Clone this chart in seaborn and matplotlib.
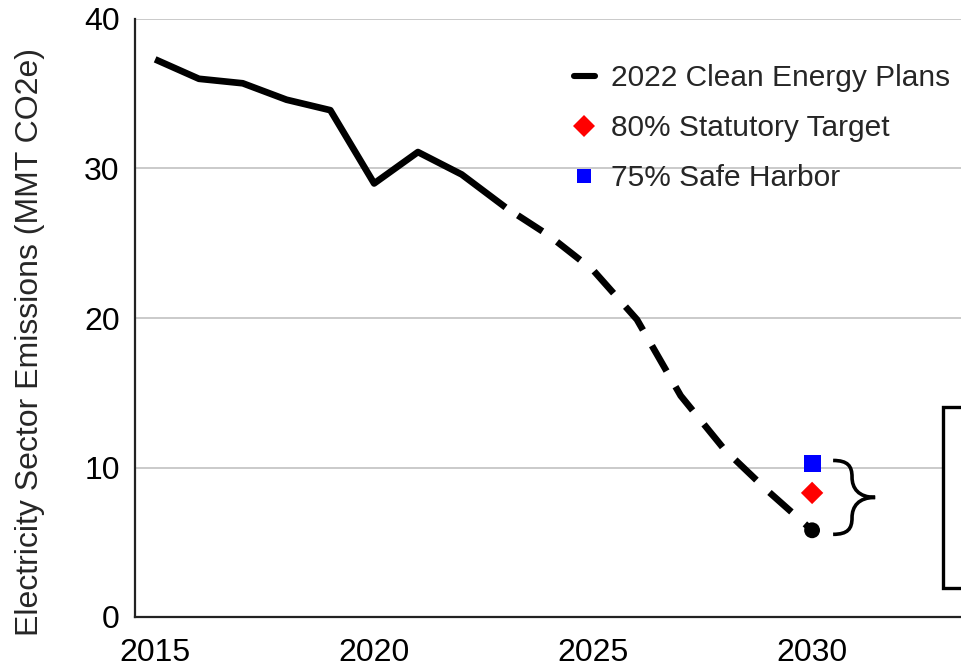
import matplotlib
matplotlib.use("Agg")
import matplotlib.pyplot as plt
import seaborn as sns
import pandas as pd
from matplotlib.lines import Line2D
from matplotlib.path import Path
from matplotlib.patches import PathPatch, Rectangle

# data
hist_years = [2015, 2016, 2017, 2018, 2019, 2020, 2021, 2022, 2023]
hist_vals = [37.3, 36.0, 35.7, 34.6, 33.9, 29.0, 31.1, 29.6, 27.4]
plan_years = [2023, 2024, 2025, 2026, 2027, 2028, 2029, 2030]
plan_vals = [27.4, 25.5, 23.2, 19.9, 14.8, 11.2, 8.4, 5.8]
target_year = 2030
statutory_target = 8.3
safe_harbor = 10.3

x_ticks = [2015, 2020, 2025, 2030]
y_ticks = [0, 10, 20, 30, 40]
legend_labels = ["2022 Clean Energy Plans", "80% Statutory Target", "75% Safe Harbor"]

sns.set_style("white")
plt.rcParams["font.family"] = ["Liberation Sans", "DejaVu Sans"]

fig = plt.figure(figsize=(9.61, 6.71), dpi=100)
ax = fig.add_axes([135 / 961, 54 / 671, 1 - 135 / 961, 598 / 671])

hist = pd.DataFrame({"year": hist_years, "value": hist_vals})
plan = pd.DataFrame({"year": plan_years, "value": plan_vals})

sns.lineplot(data=hist, x="year", y="value", ax=ax, color="black", lw=4.8,
             solid_joinstyle="round", solid_capstyle="butt", zorder=3)
sns.lineplot(data=plan, x="year", y="value", ax=ax, color="black", lw=4.8,
             linestyle=(4.9, (4.4, 2.7)), dash_capstyle="butt", zorder=3)

# end point and targets
sns.scatterplot(x=[target_year], y=[plan_vals[-1]], ax=ax, color="black",
                marker="o", s=130, edgecolor="none", zorder=4)
sns.scatterplot(x=[target_year], y=[statutory_target], ax=ax, color="#ff0000",
                marker="D", s=130, edgecolor="none", zorder=4)
sns.scatterplot(x=[target_year], y=[safe_harbor], ax=ax, color="#0000ff",
                marker="s", s=150, edgecolor="none", zorder=4)

# curly brace grouping the 2030 values
x0, w = target_year + 0.48, 0.96
yt, yb = safe_harbor + 0.17, plan_vals[-1] - 0.27
ym = (yt + yb) / 2
H = yt - ym
xa = x0 + 0.45 * w
verts = [(x0, yt), (x0 + 0.35 * w, yt), (xa, yt - 0.15 * H), (xa, yt - 0.45 * H),
         (xa, ym + 0.25 * H), (xa + 0.15 * w, ym), (x0 + w, ym),
         (xa + 0.15 * w, ym), (xa, ym - 0.25 * H), (xa, yb + 0.45 * H),
         (xa, yb + 0.15 * H), (x0 + 0.35 * w, yb), (x0, yb)]
codes = [Path.MOVETO] + [Path.CURVE4] * 12
ax.add_patch(PathPatch(Path(verts, codes), fill=False, lw=2.6, color="black",
                       capstyle="butt", clip_on=False, zorder=4))

# box at the right edge (cut off in the original)
fig.add_artist(Rectangle((943 / 961, 83 / 671), 0.2, 181 / 671,
                         transform=fig.transFigure, facecolor="white",
                         edgecolor="black", lw=2.4, zorder=5))

ax.set_xlim(2014.54, 2033.4)
ax.set_ylim(0, 40)
ax.set_xticks(x_ticks)
ax.set_yticks(y_ticks)
ax.tick_params(axis="both", length=0, labelsize=23, colors="black")
ax.tick_params(axis="x", pad=15)
ax.tick_params(axis="y", pad=11)
ax.set_xlabel("")
ax.set_ylabel("Electricity Sector Emissions (MMT CO2e)", fontsize=23)
ax.yaxis.set_label_coords(-0.109, 0.46)

ax.grid(axis="y", color="#c6c6c6", lw=1.3)
ax.grid(axis="x", visible=False)
for side in ["top", "right"]:
    ax.spines[side].set_visible(False)
for side in ["left", "bottom"]:
    ax.spines[side].set_color("#222222")
    ax.spines[side].set_linewidth(1.6)

handles = [
    Line2D([], [], color="black", lw=4.4),
    Line2D([], [], color="#ff0000", marker="D", ls="none", markersize=11.5, markeredgewidth=0),
    Line2D([], [], color="#0000ff", marker="s", ls="none", markersize=10.5, markeredgewidth=0),
]
fig.legend(handles, legend_labels, loc="upper left",
           bbox_to_anchor=(574 / 961, 1 - 64 / 671), frameon=False,
           fontsize=21.5, handlelength=0.7, handletextpad=0.55,
           labelspacing=0.74, borderpad=0, borderaxespad=0, markerscale=1)

fig.savefig("out.png", dpi=100)
